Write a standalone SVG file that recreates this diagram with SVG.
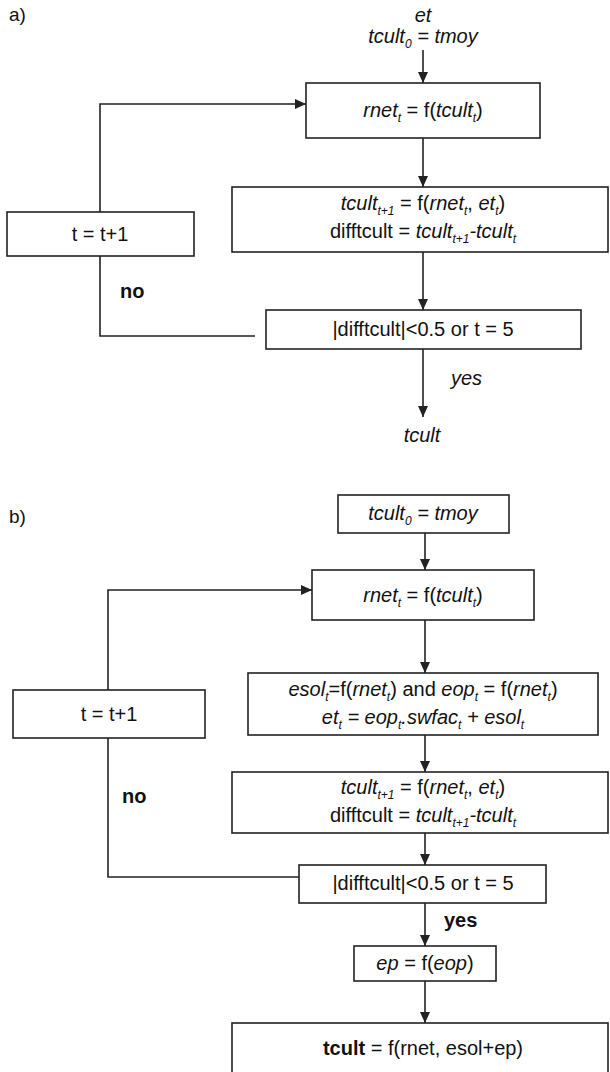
<svg xmlns="http://www.w3.org/2000/svg" width="610" height="1072" viewBox="0 0 610 1072">
<style>
.box{fill:#fff;stroke:#222;stroke-width:1.6}
.ln{fill:none;stroke:#222;stroke-width:1.6}
text{font-family:"Liberation Sans",Arial,Helvetica,sans-serif;font-size:20px;fill:#111}
.c{text-anchor:middle}
.i{font-style:italic}
.s{font-size:12px}
.b{font-weight:bold}
</style>
<defs>
<marker id="ah" markerUnits="userSpaceOnUse" markerWidth="11" markerHeight="10" refX="11" refY="5" orient="auto">
<path d="M0,0 L11,5 L0,10 z" fill="#222"/>
</marker>
</defs>

<g id="labels">
<text x="9" y="21" style="font-size:19px">a)</text>
<text x="9" y="523" style="font-size:19px">b)</text>
</g>

<g id="connectors">
<!-- a -->
<line class="ln" x1="423" y1="50" x2="423" y2="83" marker-end="url(#ah)"/>
<line class="ln" x1="423" y1="138" x2="423" y2="187" marker-end="url(#ah)"/>
<line class="ln" x1="423" y1="252" x2="423" y2="310" marker-end="url(#ah)"/>
<line class="ln" x1="423" y1="349" x2="423" y2="417" marker-end="url(#ah)"/>
<polyline class="ln" points="100,212 100,104 306,104" marker-end="url(#ah)"/>
<polyline class="ln" points="100,256 100,336 255,336"/>
<!-- b -->
<line class="ln" x1="425" y1="533" x2="425" y2="570" marker-end="url(#ah)"/>
<line class="ln" x1="425" y1="620" x2="425" y2="673" marker-end="url(#ah)"/>
<line class="ln" x1="425" y1="735" x2="425" y2="772" marker-end="url(#ah)"/>
<line class="ln" x1="425" y1="833" x2="425" y2="865" marker-end="url(#ah)"/>
<line class="ln" x1="425" y1="903" x2="425" y2="946" marker-end="url(#ah)"/>
<line class="ln" x1="425" y1="981" x2="425" y2="1023" marker-end="url(#ah)"/>
<polyline class="ln" points="108,690 108,590 312,590" marker-end="url(#ah)"/>
<polyline class="ln" points="108,738 108,877 299,877"/>
<text x="120" y="298" class="b">no</text>
<text x="451" y="385" class="i">yes</text>
<text x="122" y="803" class="b">no</text>
<text x="444" y="927" class="b">yes</text>
</g>

<g id="a-input">
<text x="423" y="22" class="c i">et</text>
<text x="423" y="43" class="c"><tspan class="i">tcult</tspan><tspan class="i s" dy="5">0</tspan><tspan class="i" dy="-5"> = tmoy</tspan></text>
</g>

<g id="a-rnet">
<rect class="box" x="306" y="83" width="234" height="55"/>
<text x="423" y="117" class="c"><tspan class="i">rnet</tspan><tspan class="i s" dy="5">t</tspan><tspan dy="-5"> = f(</tspan><tspan class="i">tcult</tspan><tspan class="i s" dy="5">t</tspan><tspan dy="-5">)</tspan></text>
</g>

<g id="a-incr">
<rect class="box" x="7" y="212" width="187" height="44"/>
<text x="100" y="241" class="c">t = t+1</text>
</g>

<g id="a-tcult">
<rect class="box" x="232" y="187" width="376" height="65"/>
<text x="423" y="210" class="c"><tspan class="i">tcult</tspan><tspan class="i s" dy="5">t+1</tspan><tspan dy="-5"> = f(</tspan><tspan class="i">rnet</tspan><tspan class="i s" dy="5">t</tspan><tspan dy="-5">, </tspan><tspan class="i">et</tspan><tspan class="i s" dy="5">t</tspan><tspan dy="-5">)</tspan></text>
<text x="423" y="238" class="c"><tspan>difftcult = </tspan><tspan class="i">tcult</tspan><tspan class="i s" dy="5">t+1</tspan><tspan class="i" dy="-5">-tcult</tspan><tspan class="i s" dy="5">t</tspan></text>
</g>

<g id="a-test">
<rect class="box" x="266" y="310" width="315" height="39"/>
<text x="423" y="336" class="c">|difftcult|&lt;0.5 or t = 5</text>
</g>

<g id="a-output">
<text x="422" y="442" class="c i">tcult</text>
</g>

<g id="b-init">
<rect class="box" x="338" y="495" width="171" height="38"/>
<text x="423" y="520" class="c"><tspan class="i">tcult</tspan><tspan class="i s" dy="5">0</tspan><tspan class="i" dy="-5"> = tmoy</tspan></text>
</g>

<g id="b-rnet">
<rect class="box" x="312" y="570" width="222" height="50"/>
<text x="423" y="602" class="c"><tspan class="i">rnet</tspan><tspan class="i s" dy="5">t</tspan><tspan dy="-5"> = f(</tspan><tspan class="i">tcult</tspan><tspan class="i s" dy="5">t</tspan><tspan dy="-5">)</tspan></text>
</g>

<g id="b-incr">
<rect class="box" x="13" y="690" width="192" height="48"/>
<text x="109" y="721" class="c">t = t+1</text>
</g>

<g id="b-esol">
<rect class="box" x="248" y="673" width="350" height="62"/>
<text x="423" y="696" class="c"><tspan class="i">esol</tspan><tspan class="i s" dy="5">t</tspan><tspan dy="-5">=f(</tspan><tspan class="i">rnet</tspan><tspan class="i s" dy="5">t</tspan><tspan dy="-5">) and </tspan><tspan class="i">eop</tspan><tspan class="i s" dy="5">t</tspan><tspan dy="-5"> = f(</tspan><tspan class="i">rnet</tspan><tspan class="i s" dy="5">t</tspan><tspan dy="-5">)</tspan></text>
<text x="423" y="724" class="c i"><tspan>et</tspan><tspan class="s" dy="5">t</tspan><tspan dy="-5"> = eop</tspan><tspan class="s" dy="5">t</tspan><tspan dy="-5">.swfac</tspan><tspan class="s" dy="5">t</tspan><tspan dy="-5"> + esol</tspan><tspan class="s" dy="5">t</tspan></text>
</g>

<g id="b-tcult">
<rect class="box" x="232" y="772" width="376" height="61"/>
<text x="423" y="794" class="c"><tspan class="i">tcult</tspan><tspan class="i s" dy="5">t+1</tspan><tspan dy="-5"> = f(</tspan><tspan class="i">rnet</tspan><tspan class="i s" dy="5">t</tspan><tspan dy="-5">, </tspan><tspan class="i">et</tspan><tspan class="i s" dy="5">t</tspan><tspan dy="-5">)</tspan></text>
<text x="423" y="822" class="c"><tspan>difftcult = </tspan><tspan class="i">tcult</tspan><tspan class="i s" dy="5">t+1</tspan><tspan class="i" dy="-5">-tcult</tspan><tspan class="i s" dy="5">t</tspan></text>
</g>

<g id="b-test">
<rect class="box" x="299" y="865" width="247" height="38"/>
<text x="423" y="890" class="c">|difftcult|&lt;0.5 or t = 5</text>
</g>

<g id="b-ep">
<rect class="box" x="354" y="946" width="142" height="35"/>
<text x="425" y="970" class="c"><tspan class="i">ep</tspan><tspan> = f(</tspan><tspan class="i">eop</tspan><tspan>)</tspan></text>
</g>

<g id="b-final">
<rect class="box" x="232" y="1023" width="376" height="60"/>
<text x="423" y="1055" class="c"><tspan class="b">tcult</tspan><tspan> = f(rnet, esol+ep)</tspan></text>
</g>
</svg>
